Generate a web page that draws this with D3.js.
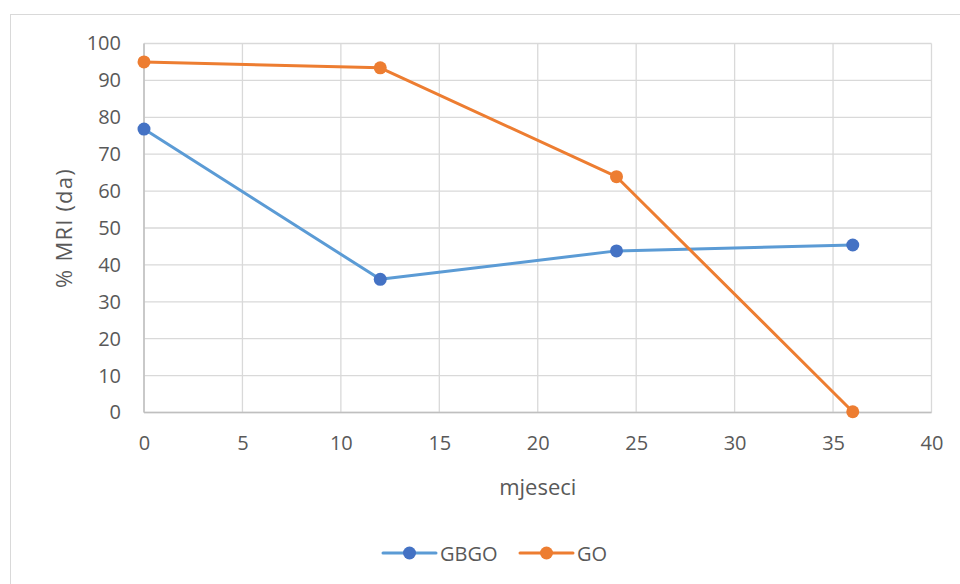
<!DOCTYPE html>
<html>
<head>
<meta charset="utf-8">
<script src="https://cdn.jsdelivr.net/npm/d3@7"></script>
<style>
  html, body { margin: 0; padding: 0; background: #fff; }
  svg { display: block; }
  text { font-family: "Open Sans", "Liberation Sans", sans-serif; fill: #595959; }
</style>
</head>
<body>
<svg id="chart" width="960" height="584"></svg>
<script>
// Data
const months = [0, 12, 24, 36];
const gbgo = [76.8, 36.1, 43.8, 45.4];
const go = [95.0, 93.4, 63.9, 0.2];
const xTicks = [0, 5, 10, 15, 20, 25, 30, 35, 40];
const yTicks = [0, 10, 20, 30, 40, 50, 60, 70, 80, 90, 100];
const seriesNames = ["GBGO", "GO"];
const lineColors = ["#5B9BD5", "#ED7D31"];
const markerColors = ["#4472C4", "#ED7D31"];
const yTitle = "% MRI (da)";
const xTitle = "mjeseci";

const svg = d3.select("#chart");
const FONT = '"Open Sans", "Liberation Sans", sans-serif';

// chart border
svg.append("rect")
  .attr("x", 10.5).attr("y", 14.5)
  .attr("width", 960).attr("height", 600)
  .attr("fill", "none").attr("stroke", "#D9D9D9").attr("stroke-width", 1);

const x = d3.scaleLinear().domain([0, 40]).range([144, 931.5]);
const y = d3.scaleLinear().domain([0, 100]).range([412.5, 43.5]);

const g = svg.append("g");

// gridlines
g.selectAll(".hgrid").data(yTicks).join("line")
  .attr("x1", x(0)).attr("x2", x(40))
  .attr("y1", d => y(d)).attr("y2", d => y(d))
  .attr("stroke", "#D9D9D9").attr("stroke-width", 1.3);
g.selectAll(".vgrid").data(xTicks).join("line")
  .attr("x1", d => x(d)).attr("x2", d => x(d))
  .attr("y1", y(0)).attr("y2", y(100))
  .attr("stroke", "#D9D9D9").attr("stroke-width", 1.3);

// axes baselines
g.append("line").attr("x1", x(0)).attr("x2", x(40)).attr("y1", y(0)).attr("y2", y(0))
  .attr("stroke", "#BFBFBF").attr("stroke-width", 1.5);
g.append("line").attr("x1", x(0)).attr("x2", x(0)).attr("y1", y(0)).attr("y2", y(100))
  .attr("stroke", "#BFBFBF").attr("stroke-width", 1.5);

// y tick labels
const yAxis = d3.axisLeft(y).tickValues(yTicks).tickSize(0).tickPadding(23);
const ya = svg.append("g").attr("transform", `translate(${x(0)},0)`).call(yAxis);
ya.select(".domain").remove();
ya.selectAll("text").style("font-size", "20px").attr("fill", "#595959").style("font-family", FONT);

// x tick labels
const xAxis = d3.axisBottom(x).tickValues(xTicks).tickSize(0).tickPadding(23);
const xa = svg.append("g").attr("transform", `translate(0,${y(0)})`).call(xAxis);
xa.select(".domain").remove();
xa.selectAll("text").style("font-size", "20px").attr("fill", "#595959").style("font-family", FONT);

// titles
svg.append("text").attr("transform", `translate(63,${(y(0)+y(100))/2}) rotate(-90)`)
  .attr("text-anchor", "middle").attr("dominant-baseline", "central")
  .style("font-size", "22px").style("letter-spacing", "1.2px").text(yTitle);
svg.append("text").attr("x", (x(0)+x(40))/2).attr("y", 486)
  .attr("text-anchor", "middle").attr("dominant-baseline", "central")
  .style("font-size", "22px").text(xTitle);

// series
const allSeries = [gbgo, go];
const line = d3.line().x((d, i) => x(months[i])).y(d => y(d));
allSeries.forEach((vals, si) => {
  g.append("path").datum(vals)
    .attr("fill", "none").attr("stroke", lineColors[si]).attr("stroke-width", 3)
    .attr("stroke-linejoin", "round").attr("stroke-linecap", "round")
    .attr("d", line);
});
allSeries.forEach((vals, si) => {
  g.selectAll(".m" + si).data(vals).join("circle")
    .attr("cx", (d, i) => x(months[i])).attr("cy", d => y(d))
    .attr("r", 6.5).attr("fill", markerColors[si]);
});

// legend
const legX = [383, 520];
const legY = 553;
seriesNames.forEach((name, si) => {
  const lg = svg.append("g").attr("transform", `translate(${legX[si]},${legY})`);
  lg.append("line").attr("x1", 0).attr("x2", 53).attr("y1", 0).attr("y2", 0)
    .attr("stroke", lineColors[si]).attr("stroke-width", 3).attr("stroke-linecap", "round");
  lg.append("circle").attr("cx", 26.5).attr("cy", 0).attr("r", 6.5).attr("fill", markerColors[si]);
  lg.append("text").attr("x", 57).attr("y", 0).attr("dominant-baseline", "central")
    .style("font-size", "20px").text(name);
});
</script>
</body>
</html>
